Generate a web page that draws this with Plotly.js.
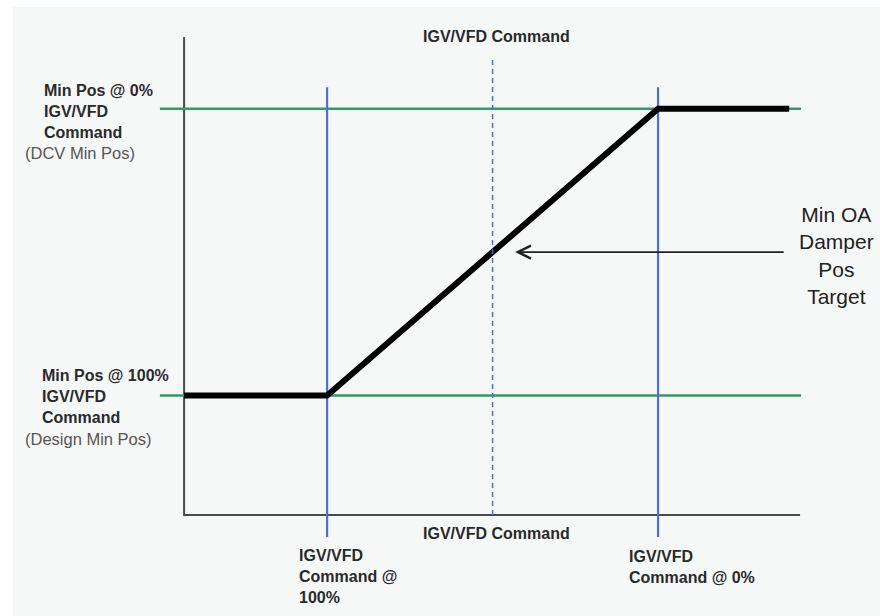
<!DOCTYPE html>
<html>
<head>
<meta charset="utf-8">
<script src="https://cdn.plot.ly/plotly-3.0.1.min.js"></script>
<style>
  body { margin: 0; background: #ffffff; }
  #chart { position: absolute; left: 13px; top: 7px; width: 867px; height: 609px; }
</style>
</head>
<body>
<div id="chart"></div>
<script>
// x = IGV/VFD command (%), drawn reversed; y = OA damper position (relative units)
const axisX = [143.2, 143.2, -42.9]
const axisY = [10, 0, 0]

const rampCmd = [143.2, 100, 0, -39.6]
const rampPos = [2.5, 2.5, 8.5, 8.5]

const minPosSpan = [150.5, -43.2]
const designMinPos = [2.5, 2.5]
const dcvMinPos = [8.5, 8.5]

const cmd100 = [100, 100]
const cmd0 = [0, 0]
const cmdSpan = [-0.46, 8.95]
const cmd50 = [50, 50]
const cmd50Span = [0, 9.56]

const FONT = 'Liberation Sans, Arial, sans-serif'
const GREEN = '#35976f'
const BLUE = '#4a70d2'

const newTrace = (x, y, color, width, dash) => {
	const trace = {
		type: 'scatter',
		mode: 'lines',
		x: x,
		y: y,
		line: {color: color, width: width, dash: dash || 'solid'},
		hoverinfo: 'skip',
		showlegend: false
	}
	return trace
}

// labels outside the plot area sit on paper coords (data-anchored ones get hidden)
const label = (text, x, y, ref, opts) => {
	return Object.assign({
		text: text,
		x: x,
		y: y,
		xref: ref,
		yref: ref,
		showarrow: false,
		xanchor: 'left',
		yanchor: 'middle',
		align: 'left',
		font: {family: FONT, size: 16, color: '#2a2a2a', weight: 'bold'}
	}, opts || {})
}

const getLayout = () => {
	const layout = {
		width: 867,
		height: 609,
		margin: {l: 137, r: 70, t: 23, b: 71},
		paper_bgcolor: '#f6f7f7',
		plot_bgcolor: 'rgba(0,0,0,0)',
		hovermode: false,
		xaxis: {range: [153.5, -45.9], visible: false, fixedrange: true},
		yaxis: {range: [-0.628, 10.146], visible: false, fixedrange: true},
		annotations: [
			label('IGV/VFD Command', 48.9, 10.02, 'data', {xref: 'x', yref: 'y', xanchor: 'center', align: 'center'}),
			label('IGV/VFD Command', 48.9, -0.377, 'data', {xref: 'x', yref: 'y', xanchor: 'center', align: 'center'}),
			label('IGV/VFD<br>Command @<br>100%', 0.2227, -0.0621, 'paper'),
			label('IGV/VFD<br>Command @ 0%', 0.7227, -0.0427, 'paper'),
			label('Min Pos @ 0%<br>IGV/VFD<br>Command', -0.1636, 0.8408, 'paper'),
			label('(DCV Min Pos)', -0.1924, 0.7612, 'paper', {font: {family: FONT, size: 16.5, color: '#555555'}}),
			label('Min Pos @ 100%<br>IGV/VFD<br>Command', -0.1667, 0.2874, 'paper'),
			label('(Design Min Pos)', -0.1924, 0.2058, 'paper', {font: {family: FONT, size: 16.5, color: '#555555'}}),
			label('Min OA<br>Damper<br>Pos<br>Target', 1.0409, 0.5631, 'paper',
				{xanchor: 'center', align: 'center', font: {family: FONT, size: 21, color: '#222222'}}),
			{
				text: '',
				x: 43.2, y: 5.5,
				ax: -38.4, ay: 5.5,
				xref: 'x', yref: 'y', axref: 'x', ayref: 'y',
				showarrow: true,
				arrowhead: 5,
				arrowsize: 1.6,
				arrowwidth: 1.6,
				arrowcolor: '#222222'
			}
		]
	}
	return layout
}

const data = [
	newTrace(axisX, axisY, '#4a4a4a', 2),
	newTrace(minPosSpan, designMinPos, GREEN, 2.5),
	newTrace(minPosSpan, dcvMinPos, GREEN, 2.5),
	newTrace(cmd100, cmdSpan, BLUE, 2.2),
	newTrace(cmd0, cmdSpan, BLUE, 2.2),
	newTrace(rampCmd, rampPos, '#000000', 6),
	newTrace(cmd50, cmd50Span, BLUE, 1.5, '5px,4px')
]

Plotly.newPlot('chart', data, getLayout(), {staticPlot: true, displayModeBar: false})
</script>
</body>
</html>
